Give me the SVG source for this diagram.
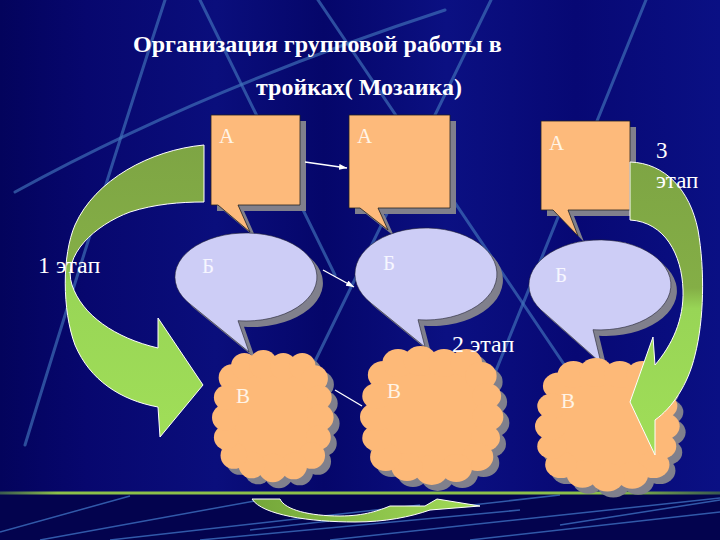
<svg xmlns="http://www.w3.org/2000/svg" xmlns:xlink="http://www.w3.org/1999/xlink" width="720" height="540" viewBox="0 0 720 540">
<style>
.bgline{fill:none;stroke:#4274BC;stroke-width:3;stroke-opacity:0.65;stroke-linecap:round}
.bandline{fill:none;stroke:#3D6FC0;stroke-width:1.5;stroke-opacity:0.8}
.title{font-family:"Liberation Serif","Times New Roman",serif;font-weight:bold;font-size:24px;fill:#FFFFFF}
.stage{font-family:"Liberation Serif","Times New Roman",serif;font-size:24px;fill:#FFFFFF}
.lbl{font-family:"Liberation Serif","Times New Roman",serif;font-size:21px;fill:#FFF4E6}
.lblb{font-family:"Liberation Serif","Times New Roman",serif;font-size:21px;fill:#F6F6FF}
.box{fill:#FDBA7B;stroke:#222;stroke-width:0.8}
.oval{fill:#CDCDF6;stroke:#223;stroke-width:0.6}
.shadow{fill:#80808C}
.cloud{fill:#FDB978}
.conn{fill:none;stroke:#FFFFFF;stroke-width:1.4}
.garrow{stroke:#FFFFFF;stroke-width:1}
</style>
<defs>
<linearGradient id="bg" x1="0" y1="0" x2="1" y2="0">
<stop offset="0" stop-color="#03035C"/>
<stop offset="0.12" stop-color="#07076E"/>
<stop offset="0.3" stop-color="#0A0E7C"/>
<stop offset="0.45" stop-color="#05066A"/>
<stop offset="0.62" stop-color="#0B1082"/>
<stop offset="0.8" stop-color="#070874"/>
<stop offset="1" stop-color="#0A1084"/>
</linearGradient>
<linearGradient id="gline" x1="0" y1="0" x2="1" y2="0">
<stop offset="0" stop-color="#3A5A50"/>
<stop offset="0.08" stop-color="#8CC04A"/>
<stop offset="0.85" stop-color="#8CC04A"/>
<stop offset="1" stop-color="#3A5A50"/>
</linearGradient>
<linearGradient id="gl" gradientUnits="userSpaceOnUse" x1="0" y1="145" x2="0" y2="437">
<stop offset="0" stop-color="#7EA544"/>
<stop offset="0.4" stop-color="#84AE46"/>
<stop offset="0.47" stop-color="#98D556"/>
<stop offset="1" stop-color="#A0DE58"/>
</linearGradient>
<linearGradient id="gr" gradientUnits="userSpaceOnUse" x1="0" y1="162" x2="0" y2="455">
<stop offset="0" stop-color="#7EA544"/>
<stop offset="0.43" stop-color="#84AE46"/>
<stop offset="0.5" stop-color="#98D556"/>
<stop offset="1" stop-color="#A0DE58"/>
</linearGradient>
<linearGradient id="gb" gradientUnits="userSpaceOnUse" x1="252" y1="0" x2="480" y2="0">
<stop offset="0" stop-color="#74A63A"/>
<stop offset="1" stop-color="#A2DC58"/>
</linearGradient>
<marker id="ah" markerUnits="userSpaceOnUse" markerWidth="9" markerHeight="7" refX="8" refY="3" orient="auto">
<path d="M0,0 L8,3 L0,6 z" fill="#FFFFFF"/>
</marker>
<g id="cloudShape" transform="translate(2,2)">
<rect x="10" y="12" width="104" height="108" rx="28"/>
<circle cx="19" cy="25" r="14"/><circle cx="32" cy="13" r="14"/><circle cx="52" cy="11" r="15"/><circle cx="73" cy="13" r="14"/><circle cx="93" cy="13" r="14"/><circle cx="106" cy="26" r="14"/>
<circle cx="111" cy="46" r="13"/><circle cx="112" cy="67" r="14"/><circle cx="110" cy="88" r="13"/>
<circle cx="103" cy="107" r="14"/><circle cx="84" cy="118" r="14"/><circle cx="62" cy="120" r="15"/><circle cx="40" cy="117" r="14"/><circle cx="21" cy="107" r="14"/>
<circle cx="13" cy="88" r="13"/><circle cx="12" cy="67" r="14"/><circle cx="13" cy="46" r="13"/>
</g>
</defs>

<g id="background">
<rect x="0" y="0" width="720" height="540" fill="url(#bg)"/>
<path class="bgline" d="M165,0 Q100,200 25,445"/>
<path class="bgline" d="M15,192 Q200,90 445,10"/>
<path class="bgline" d="M200,0 L335,275"/>
<path class="bgline" d="M318,0 L578,385"/>
<path class="bgline" d="M491,0 L300,392"/>
<path class="bgline" d="M646,0 L480,410"/>
<rect x="0" y="494" width="720" height="46" fill="#03034E"/>
<path class="bandline" d="M0,532 L130,496"/>
<path class="bandline" d="M40,540 L260,500"/>
<path class="bandline" d="M110,540 L420,505"/>
<path class="bandline" d="M200,540 L520,510"/>
<path class="bandline" d="M250,530 L560,495"/>
<path class="bandline" d="M330,540 L720,498"/>
<path class="bandline" d="M470,540 L720,512"/>
<path class="bandline" d="M560,525 L720,500"/>
<rect x="0" y="491.5" width="720" height="3" fill="url(#gline)"/>
</g>

<g id="title">
<text class="title" x="133" y="52">Организация групповой работы в</text>
<text class="title" x="256" y="95">тройках( Мозаика)</text>
</g>

<g id="nodeA1">
<path class="shadow" transform="translate(6,6)" d="M211,115 H300 V205 H238 L250,232 L218,205 H211 Z"/>
<path class="box" d="M211,115 H300 V205 H238 L250,232 L218,205 H211 Z"/>
<text class="lbl" x="219" y="143">А</text>
</g>
<g id="nodeA2">
<path class="shadow" transform="translate(6,6)" d="M349,115 H450 V208 H378 L388,230 L360,208 H349 Z"/>
<path class="box" d="M349,115 H450 V208 H378 L388,230 L360,208 H349 Z"/>
<text class="lbl" x="357" y="143">А</text>
</g>
<g id="nodeA3">
<path class="shadow" transform="translate(6,6)" d="M541,121 H630 V210 H568 L578,236 L553,210 H541 Z"/>
<path class="box" d="M541,121 H630 V210 H568 L578,236 L553,210 H541 Z"/>
<text class="lbl" x="549" y="150">А</text>
</g>

<g id="nodeB1">
<path class="shadow" transform="translate(6,6)" d="M191.6,305.3 L249,352 L238,320.7 A71,44 0 1 0 191.6,305.3 Z"/>
<path class="oval" d="M191.6,305.3 L249,352 L238,320.7 A71,44 0 1 0 191.6,305.3 Z"/>
<text class="lblb" x="202" y="273">Б</text>
</g>
<g id="nodeB2">
<path class="shadow" transform="translate(6,6)" d="M371.6,303.6 L425,347 L418,319.7 A71,46 0 1 0 371.6,303.6 Z"/>
<path class="oval" d="M371.6,303.6 L425,347 L418,319.7 A71,46 0 1 0 371.6,303.6 Z"/>
<text class="lblb" x="383" y="270">Б</text>
</g>
<g id="nodeB3">
<path class="shadow" transform="translate(6,6)" d="M545.6,313.9 L601,363 L593,329.7 A71,45 0 1 0 545.6,313.9 Z"/>
<path class="oval" d="M545.6,313.9 L601,363 L593,329.7 A71,45 0 1 0 545.6,313.9 Z"/>
<text class="lblb" x="555" y="282">Б</text>
</g>

<g id="nodeC1">
<use xlink:href="#cloudShape" href="#cloudShape" class="shadow" transform="translate(218,358) scale(0.95,0.95)"/>
<use xlink:href="#cloudShape" href="#cloudShape" class="cloud" transform="translate(212,352) scale(0.95,0.95)"/>
<text class="lbl" x="236" y="403">В</text>
</g>
<g id="nodeC2">
<use xlink:href="#cloudShape" href="#cloudShape" class="shadow" transform="translate(366,354) scale(1.12,1.0)"/>
<use xlink:href="#cloudShape" href="#cloudShape" class="cloud" transform="translate(360,348) scale(1.12,1.0)"/>
<text class="lbl" x="387" y="398">В</text>
</g>
<g id="nodeC3">
<use xlink:href="#cloudShape" href="#cloudShape" class="shadow" transform="translate(541,366) scale(1.13,0.96)"/>
<use xlink:href="#cloudShape" href="#cloudShape" class="cloud" transform="translate(535,360) scale(1.13,0.96)"/>
<text class="lbl" x="561" y="408">В</text>
</g>

<g id="connectors">
<line class="conn" x1="305" y1="162" x2="347" y2="168" marker-end="url(#ah)"/>
<line class="conn" x1="323" y1="270" x2="354" y2="287" marker-end="url(#ah)"/>
<line class="conn" x1="335" y1="390" x2="362" y2="406"/>
<path id="stage1Arrow" class="garrow" fill="url(#gl)" d="M204,145 C150,150 95,180 75,225 C62,255 62,310 75,345 C90,380 120,400 158,407 L160,437 L203,385 L158,318 L158,348 C115,338 82,315 72,285 C62,255 95,225 130,212 C155,204 180,202 204,202 Z"/>
<path id="stage3Arrow" class="garrow" fill="url(#gr)" d="M630,162 C665,163 690,190 698,230 C705,270 704,320 695,355 C688,385 672,408 655,420 L655,455 L630,402 L653,337 L655,365 C672,345 684,320 683,290 C682,255 665,222 630,220 Z"/>
<path id="stage2Arrow" class="garrow" fill="url(#gb)" d="M252,499 L280,499 C285,510 310,516 340,516 C365,516 380,510 390,506 L425,506 L437,499 L480,506 L430,510 C410,517 385,522 355,522 C310,522 262,515 252,499 Z"/>
</g>

<g id="stageLabels">
<text class="stage" x="38" y="273">1 этап</text>
<text class="stage" x="452" y="352">2 этап</text>
<text class="stage" x="656" y="158" style="font-size:23px">3</text>
<text class="stage" x="656" y="188" style="font-size:23px">этап</text>
</g>
</svg>
